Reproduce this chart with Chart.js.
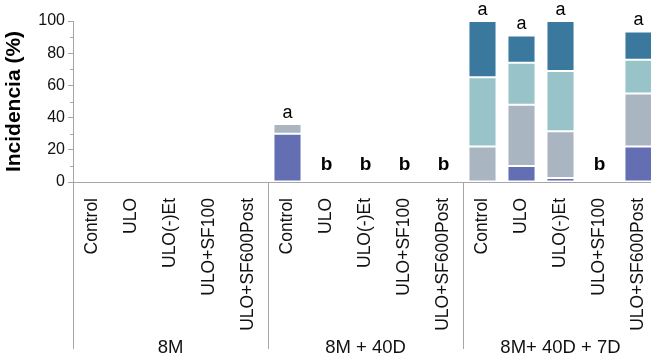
<!DOCTYPE html>
<html>
<head>
<meta charset="utf-8">
<script src="https://cdn.jsdelivr.net/npm/chart.js@4.4.1/dist/chart.umd.min.js"></script>
<style>
  html, body { margin: 0; padding: 0; background: #fff; overflow: hidden; }
  #wrap { width: 658px; height: 360px; position: relative; }
</style>
</head>
<body>
<div id="wrap"><canvas id="c"></canvas></div>
<script>
// Treatments repeated in each storage period
const treatments = ['Control', 'ULO', 'ULO(-)Et', 'ULO+SF100', 'ULO+SF600Post'];
const periods = ['8M', '8M + 40D', '8M+ 40D + 7D'];
const labels = periods.flatMap(() => treatments);

// Incidence (%) per severity class, stacked bottom to top
const grade1 = [0, 0, 0, 0, 0,   30, 0, 0, 0, 0,   0, 10, 2.5, 0, 22];
const grade2 = [0, 0, 0, 0, 0,    6, 0, 0, 0, 0,  22, 38, 29, 0, 33];
const grade3 = [0, 0, 0, 0, 0,    0, 0, 0, 0, 0,  43, 26, 37.5, 0, 21];
const grade4 = [0, 0, 0, 0, 0,    0, 0, 0, 0, 0,  35, 17, 31, 0, 17.5];

// Significance letters above each bar
const letters = ['', '', '', '', '',  'a', 'b', 'b', 'b', 'b',  'a', 'a', 'a', 'b', 'a'];

const yTicks = [0, 20, 40, 60, 80, 100];

const FONT = '"Liberation Sans", Arial, sans-serif';
const AXIS = '#a6a6a6';

const annotate = {
  id: 'annotate',
  afterDraw(chart) {
    const { ctx, scales: { x, y } } = chart;
    ctx.save();

    // minor ticks on the value axis
    ctx.strokeStyle = AXIS;
    ctx.lineWidth = 1;
    for (let v = 10; v < 100; v += 20) {
      const py = Math.round(y.getPixelForValue(v)) + 0.5;
      ctx.beginPath();
      ctx.moveTo(y.right - 3, py);
      ctx.lineTo(y.right, py);
      ctx.stroke();
    }

    // period separators below the axis
    const step = x.getPixelForValue(1) - x.getPixelForValue(0);
    for (let g = 0; g <= periods.length; g++) {
      const idx = Math.min(g * treatments.length, labels.length - 1);
      const c = x.getPixelForValue(idx);
      const bx = Math.round(g * treatments.length >= labels.length ? c + step / 2 : c - step / 2) + 0.5;
      ctx.beginPath();
      ctx.moveTo(bx, y.bottom);
      ctx.lineTo(bx, 349);
      ctx.stroke();
    }

    // period names
    ctx.fillStyle = '#111';
    ctx.textAlign = 'center';
    ctx.textBaseline = 'middle';
    ctx.font = '18.5px ' + FONT;
    periods.forEach((p, g) => {
      const a = x.getPixelForValue(g * treatments.length);
      const b = x.getPixelForValue(g * treatments.length + treatments.length - 1);
      ctx.fillText(p, (a + b) / 2, 348);
    });

    // significance letters
    ctx.textBaseline = 'alphabetic';
    ctx.fillStyle = '#000';
    letters.forEach((L, i) => {
      if (!L) return;
      const total = chart.data.datasets.reduce((s, d) => s + (d.data[i] || 0), 0);
      const px = x.getPixelForValue(i);
      const top = y.getPixelForValue(total);
      if (L === 'b') {
        ctx.font = 'bold 19px ' + FONT;
        ctx.fillText(L, px, top - 12);
      } else {
        ctx.font = '18px ' + FONT;
        ctx.fillText(L, px, top - 6);
      }
    });
    ctx.restore();
  }
};

const edge = 'rgba(255,255,255,0.3)';
const bw = c => (c.raw > 0 ? 1 : 0);

new Chart(document.getElementById('c'), {
  type: 'bar',
  data: {
    labels,
    datasets: [
      { label: 'Grado 1', data: grade1, backgroundColor: '#646fb3', borderColor: edge, borderWidth: bw, borderSkipped: false },
      { label: 'Grado 2', data: grade2, backgroundColor: '#aab5c2', borderColor: edge, borderWidth: bw, borderSkipped: false },
      { label: 'Grado 3', data: grade3, backgroundColor: '#98c3c8', borderColor: edge, borderWidth: bw, borderSkipped: false },
      { label: 'Grado 4', data: grade4, backgroundColor: '#3a789e', borderColor: edge, borderWidth: bw, borderSkipped: false }
    ]
  },
  options: {
    responsive: true,
    maintainAspectRatio: false,
    animation: false,
    layout: { padding: { top: 21, right: 0, left: 0, bottom: 0 } },
    plugins: { legend: { display: false }, tooltip: { enabled: false } },
    datasets: { bar: { categoryPercentage: 1, barPercentage: 0.72 } },
    scales: {
      x: {
        stacked: true,
        grid: { display: false },
        border: { color: AXIS, width: 1 },
        ticks: {
          autoSkip: false,
          maxRotation: 90,
          minRotation: 90,
          padding: 8,
          color: '#111',
          font: { family: FONT, size: 17.5 }
        },
        afterFit: s => { s.height = 178; s.paddingLeft = 0; s.paddingRight = 0; }
      },
      y: {
        stacked: true,
        min: 0,
        max: 100,
        afterBuildTicks: s => {
          const t = [];
          for (let v = 0; v <= 100; v += 10) t.push({ value: v });
          s.ticks = t;
        },
        grid: {
          drawOnChartArea: false,
          tickLength: 5,
          tickColor: c => (c.tick && yTicks.includes(c.tick.value) ? AXIS : 'rgba(0,0,0,0)')
        },
        border: { color: AXIS, width: 1 },
        ticks: {
          padding: 3,
          color: '#111',
          font: { family: FONT, size: 16 },
          callback: v => (yTicks.includes(v) ? String(v) : '')
        },
        title: {
          display: true,
          text: 'Incidencia (%)',
          color: '#000',
          padding: { top: 2, bottom: 2 },
          font: { family: FONT, size: 21, weight: 'bold' }
        },
        afterFit: s => { s.width = 73; }
      }
    }
  },
  plugins: [annotate]
});
</script>
</body>
</html>
